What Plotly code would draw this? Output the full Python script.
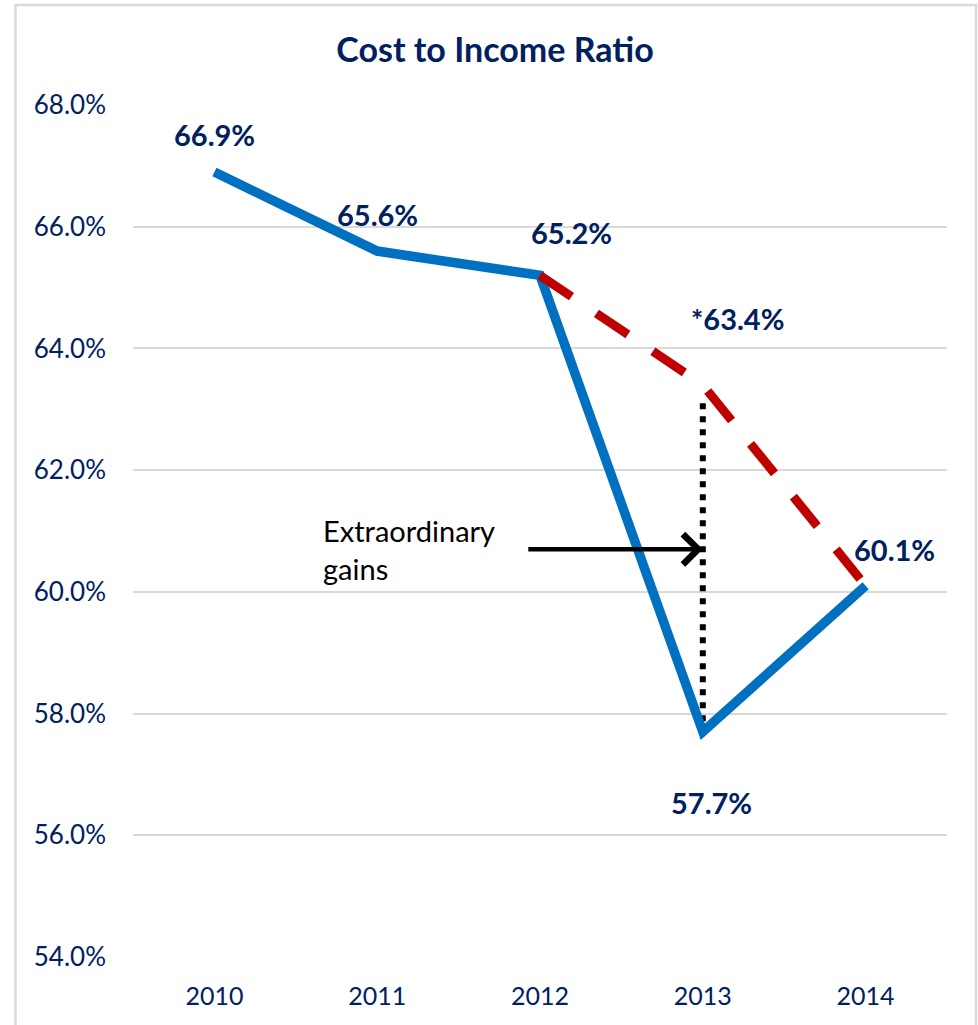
import plotly.graph_objects as go

# Cost-to-income ratio by year (%)
years = ["2010", "2011", "2012", "2013", "2014"]
reported = [66.9, 65.6, 65.2, 57.7, 60.1]

# Ratio excluding extraordinary gains (from 2012 on)
adj_years = ["2012", "2013", "2014"]
adjusted = [65.2, 63.4, 60.1]

# Gap marker in 2013 and the arrow pointing at it
gap_year = "2013"
gap_top, gap_bottom = 63.1, 57.7
arrow_level = 60.7

y_ticks = [54, 56, 58, 60, 62, 64, 66, 68]
y_tick_text = ["54.0%", "56.0%", "58.0%", "60.0%", "62.0%", "64.0%", "66.0%", "68.0%"]

NAVY = "#002060"
BLUE = "#0070C0"
RED = "#C00000"
GRID = "#D9D9D9"
FONT = "Lato"

W, H = 978, 1025
ML, MR, MT, MB = 133, 31, 105, 68
PW = W - ML - MR
PH = H - MT - MB


def idx(year):
    """Serial position of a category on the x axis (used by annotations)."""
    return years.index(year)


fig = go.Figure()

# dotted connector between adjusted and reported 2013 values
fig.add_trace(go.Scatter(
    x=[gap_year, gap_year], y=[gap_top, gap_bottom], mode="lines",
    line=dict(color="black", width=6, dash="6px,7px"),
    hoverinfo="skip", showlegend=False,
))

fig.add_trace(go.Scatter(
    x=years, y=reported, mode="lines",
    line=dict(color=BLUE, width=9.5),
    name="Reported", showlegend=False,
))

fig.add_trace(go.Scatter(
    x=adj_years, y=adjusted, mode="lines",
    line=dict(color=RED, width=9, dash="38px,30px"),
    name="Adjusted", showlegend=False,
))

# value labels, each nudged off its point
label_specs = [
    ("2010", reported[0], "{:.1f}%", 0, 37),
    ("2011", reported[1], "{:.1f}%", 0, 37),
    ("2012", reported[2], "{:.1f}%", 31, 43),
    ("2013", adjusted[1], "*{:.1f}%", 35, 66),
    ("2013", reported[3], "{:.1f}%", 9, -71),
    ("2014", reported[4], "{:.1f}%", 29, 36),
]
for x, v, fmt, dx, dy in label_specs:
    fig.add_annotation(
        x=idx(x), y=v, text=fmt.format(v), showarrow=False,
        xshift=dx, yshift=dy,
        font=dict(family=FONT, size=29, color=NAVY, weight="bold"),
        xanchor="center", yanchor="middle",
    )

# arrow pointing at the gap
fig.add_annotation(
    x=idx(gap_year), y=arrow_level, ax=-176, ay=0,
    axref="pixel", ayref="pixel",
    text="", showarrow=True, arrowhead=4, arrowsize=1.3,
    arrowwidth=4.5, arrowcolor="black", standoff=0,
)
fig.add_annotation(
    xref="paper", yref="paper",
    x=(321 - ML) / PW, y=(H - MB - 549) / PH,
    text="Extraordinary<br>gains", showarrow=False, align="left",
    xanchor="left", yanchor="middle",
    font=dict(family=FONT, size=29, color="black"),
)

# outer chart border
fig.add_shape(
    type="rect", xref="paper", yref="paper",
    x0=(15.5 - ML) / PW, x1=(976 - ML) / PW,
    y0=(H - MB - 1040) / PH, y1=(H - MB - 5) / PH,
    line=dict(color=GRID, width=2.5), layer="below",
)

fig.update_layout(
    width=W, height=H,
    margin=dict(l=ML, r=MR, t=MT, b=MB, pad=0),
    paper_bgcolor="white", plot_bgcolor="white",
    title=dict(
        text="<b>Cost to Income Ratio</b>",
        x=495 / W, xref="container", xanchor="center",
        y=1 - 50 / H, yref="container", yanchor="middle",
        font=dict(family=FONT, size=34, color=NAVY),
    ),
    xaxis=dict(
        type="category", categoryorder="array", categoryarray=years,
        range=[-0.5, 4.5], showgrid=False,
        zeroline=False, showline=False, ticks="",
        tickfont=dict(family=FONT, size=25, color=NAVY),
        ticklabelstandoff=22,
    ),
    yaxis=dict(
        range=[54, 68], tickvals=y_ticks, ticktext=y_tick_text,
        showgrid=True, gridcolor=GRID, gridwidth=2,
        zeroline=False, showline=False, ticks="",
        tickfont=dict(family=FONT, size=26, color=NAVY),
        ticklabelstandoff=26,
    ),
    hovermode=False,
)

fig.write_html("out.html")
